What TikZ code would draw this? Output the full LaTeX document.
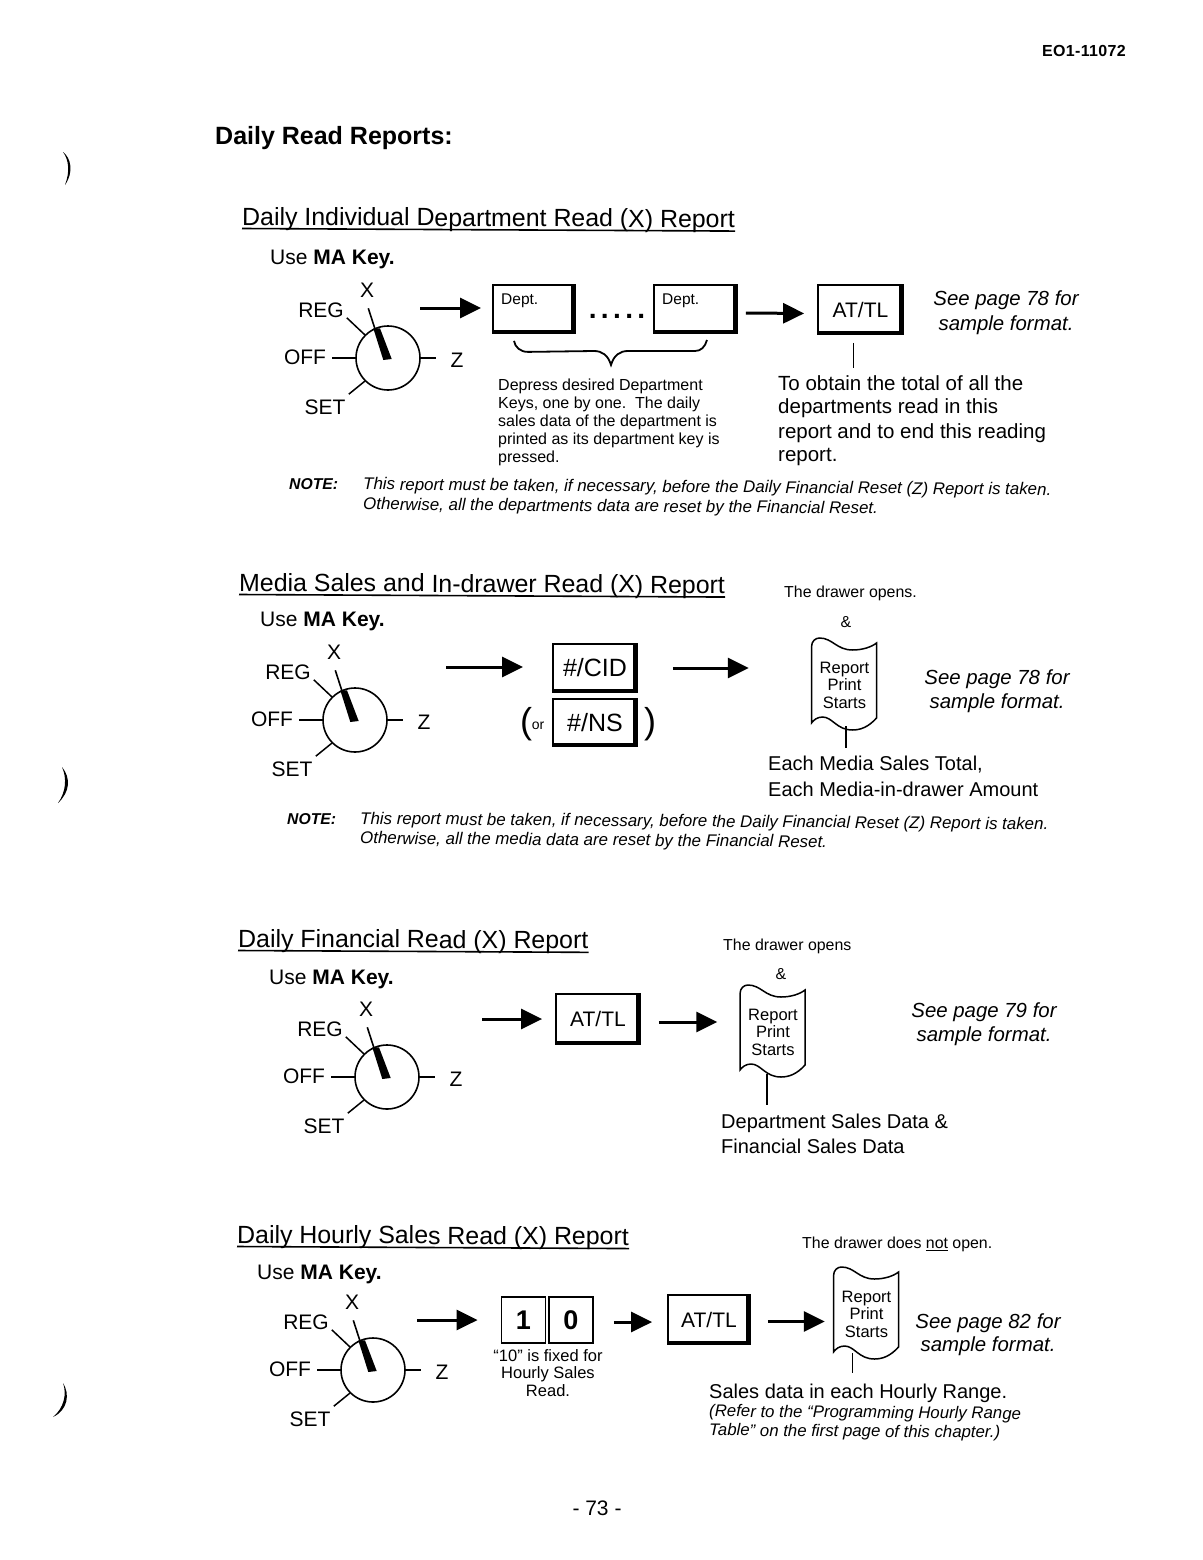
\documentclass[tikz,border=0pt]{standalone}
\usepackage{fontspec}
\setmainfont{Liberation Sans}
\usetikzlibrary{arrows.meta}
\tikzset{
  x=1pt,y=-1pt,
  flow/.style={line width=3pt,-{Triangle[length=21pt,width=20pt]}},
  wire/.style={line width=1.5pt},
  rulel/.style={line width=1.6pt},
  keybox/.style={draw,line width=1.8pt,inner sep=0pt},
  dlab/.style={inner sep=0pt,font=\fontsize{21}{21}\selectfont},
  txt/.style={inner sep=0pt,anchor=mid west},
  ctr/.style={inner sep=0pt,anchor=mid},
}
\newcommand\fs[1]{\fontsize{#1}{#1}\selectfont}
% name, x, y, size, text
\newcommand\tx[6][]{\node[txt,#1] (#2) at (#3,{#4+0.36*#5-3}) {\fs{#5}#6};}
\newcommand\cx[6][]{\node[ctr,#1] (#2) at (#3,{#4+0.36*#5-3}) {\fs{#5}#6};}
% name x y size text : underlined title
\newcommand\rtitle[5]{\node[inner sep=0pt,anchor=base west,rotate=-0.3] (#1) at (#2,#3) {\fs{#4}#5};
  \draw[rulel] ([yshift=-3.5pt]#1.base west) -- ([yshift=-3.5pt]#1.base east);}
% name cx cy
\newcommand\dial[3]{%
  \node[circle,draw,minimum size=64pt,inner sep=0pt,line width=1.6pt] (#1) at (#2,#3) {};
  \node[dlab] (#1x) at (#2-21,#3-68) {X};
  \node[dlab] (#1r) at (#2-67,#3-48) {REG};
  \node[dlab] (#1o) at (#2-83,#3-1) {OFF};
  \node[dlab] (#1z) at (#2+69,#3+2) {Z};
  \node[dlab] (#1s) at (#2-63,#3+49) {SET};
  \draw[wire] (#1.west) -- ++(-23,0);
  \draw[wire] (#1.east) -- ++(15,0);
  \draw[wire] (#1.135) -- ++(-18,-17);
  \draw[wire] (#1.225) -- ++(-16,13);
  \fill (#2-14.7,#3-29.7) -- (#2-8,#3-29.7) -- (#2+3.7,#3+1) -- (#2-4.7,#3+2) -- cycle;
  \draw[line width=1.6pt] (#2-13,#3-29) -- (#2-19.7,#3-49.7);
}
% name x0 y0 x1 y1 text
\newcommand\keyb[6]{%
  \node[keybox,minimum width=#4-#2,minimum height=#5-#3] (#1) at ({(#2+#4)/2},{(#3+#5)/2}) {#6};
  \fill (#1.north east) rectangle ([xshift=-5pt]#1.south east);
  \fill (#1.south west) rectangle ([yshift=4pt]#1.south east);
}
% name cx cy : tape-shaped "Report Print Starts" node
\newcommand\docsh[3]{%
  \node[inner sep=0pt,minimum width=65pt,minimum height=92pt,align=center,font=\fs{16.5}] (#1) at (#2,#3) {\fs{16.5}Report\\[1pt]Print\\[1pt]Starts};
  \draw[wire,shift={(#2,#3)}] (-33,38) -- (-33,-38) .. controls (-33,-44) and (-29,-47) .. (-25,-47)
   .. controls (-12,-47) and (-8,-35) .. (8,-35) .. controls (18,-35) and (27,-38) .. (32,-42)
   -- (32,33) .. controls (24,42) and (16,45) .. (8,45) .. controls (-8,45) and (-12,32) .. (-22,32)
   .. controls (-27,32) and (-31,35) .. (-33,38) -- cycle;
}
\begin{document}
\begin{tikzpicture}
\useasboundingbox (0,0) rectangle (1202,1560);
\fill[white] (0,0) rectangle (1202,1560);
% punch-hole shadows
\fill (63,152) .. controls (71,158) and (74,172) .. (65,185) .. controls (70,172) and (69,160) .. (63,152) -- cycle;
\fill (62,767) .. controls (71,778) and (70,792) .. (58,803) .. controls (66,792) and (67,778) .. (62,767) -- cycle;
\fill (63,1383) .. controls (70,1394) and (68,1410) .. (53,1417) .. controls (64,1408) and (67,1394) .. (63,1383) -- cycle;
% header
\tx{hdr}{1042}{51}{16}{\addfontfeature{LetterSpace=2}\textbf{EO1-11072}}
\tx{h1}{215}{136}{25}{\textbf{Daily Read Reports:}}
%---------------- section 1
\rtitle{t1}{242}{225}{24.9}{Daily Individual Department Read (X) Report}
\tx{u1}{270}{257}{21}{Use \textbf{MA Key.}}
\dial{d1}{388}{358}
\coordinate (s1) at (420,308);
\keyb{k1a}{493}{285}{575}{333}{}
\tx{k1al}{501}{299}{15.5}{Dept.}
\keyb{k1b}{654}{285}{737}{333}{}
\tx{k1bl}{662}{299}{15.5}{Dept.}
\cx{dots}{617}{309}{28}{\textbf{.\hspace{4.4pt}.\hspace{4.4pt}.\hspace{4.4pt}.\hspace{4.4pt}.}}
\keyb{k1c}{818}{285}{903}{334}{\fs{21}AT/TL}
\draw[flow,shorten >=11pt] (s1) -- (s1 -| k1a.west);
\draw[flow,shorten <=8pt,shorten >=13pt] ([yshift=-4pt]k1b.east) -- ([yshift=-4pt]k1c.west);
\cx{sa1}{1006}{299}{20.4}{\itshape See page 78 for}
\cx{sb1}{1006}{324}{20.4}{\itshape sample format.}
\tx{n1a}{498}{385}{16}{Depress desired Department}
\tx{n1b}{498}{403}{16}{Keys, one by one.\ \ The daily}
\tx{n1c}{498}{421}{16}{sales data of the department is}
\tx{n1d}{498}{439}{16}{printed as its department key is}
\tx{n1e}{498}{457}{16}{pressed.}
\draw[line width=1.8pt] ([xshift=-20pt,yshift=-7pt]k1a.south) .. controls ([xshift=-19pt,yshift=-13pt]k1a.south) and ([xshift=-14pt,yshift=-18pt]k1a.south) .. ([xshift=-6pt,yshift=-18pt]k1a.south)
  -- (594,351) .. controls (602,351) and (608,355) .. (611,365) .. controls (614,355) and (620,351) .. (628,351)
  -- (695,351) .. controls (701,351) and (705,347) .. (707,340);
\tx{w1a}{778}{383}{20.5}{To obtain the total of all the}
\tx{w1b}{778}{406}{20.5}{departments read in this}
\tx{w1c}{778}{431}{20.5}{report and to end this reading}
\tx{w1d}{778}{454}{20.5}{report.}
\draw[wire] ([xshift=-7pt,yshift=-8pt]k1c.south) -- ([xshift=-7pt,yshift=-33pt]k1c.south);
\tx{nl1}{289}{484}{15.7}{\textbf{\itshape NOTE:}}
\tx[rotate=-0.45]{nt1a}{363}{484}{16.9}{\itshape This report must be taken, if necessary, before the Daily Financial Reset (Z) Report is taken.}
\tx[rotate=-0.45]{nt1b}{363}{504}{16.9}{\itshape Otherwise, all the departments data are reset by the Financial Reset.}
%---------------- section 2
\rtitle{t2}{239}{591}{24.9}{Media Sales and In-drawer Read (X) Report}
\tx{od2}{784}{592}{15.9}{The drawer opens.}
\cx{am2}{846}{622}{15.9}{\&}
\tx{u2}{260}{619}{21}{Use \textbf{MA Key.}}
\dial{d2}{355}{720}
\coordinate (s2) at (446,667);
\keyb{k2a}{553}{644}{637}{692}{\fs{25}\#/CID}
\keyb{k2b}{553}{699}{637}{746}{\fs{25}\#/NS}
\draw[flow,shorten >=29pt] (s2) -- (s2 -| k2a.west);
\cx{pl2}{526}{721}{36}{\textmd{(}}
\cx{or2}{538}{725}{14}{or}
\cx{pr2}{650}{721}{36}{\textmd{)}}
\docsh{r2}{844.5}{685}
\draw[flow,shorten <=35pt,shorten >=63pt] (k2a.east) -- (k2a.east -| r2.west);
\cx{sa2}{997}{678}{20.4}{\itshape See page 78 for}
\cx{sb2}{997}{702}{20.4}{\itshape sample format.}
\tx{w2a}{768}{764}{20}{Each Media Sales Total,}
\tx{w2b}{768}{790}{20}{Each Media-in-drawer Amount}
\draw[wire] ([xshift=1.5pt,yshift=5pt]r2.south) -- ([xshift=1.5pt,yshift=8pt]r2.south |- w2a.north);
\tx{nl2}{287}{819}{15.7}{\textbf{\itshape NOTE:}}
\tx[rotate=-0.45]{nt2a}{360}{818.5}{16.9}{\itshape This report must be taken, if necessary, before the Daily Financial Reset (Z) Report is taken.}
\tx[rotate=-0.45]{nt2b}{360}{838}{16.9}{\itshape Otherwise, all the media data are reset by the Financial Reset.}
%---------------- section 3
\rtitle{t3}{238}{947}{24.9}{Daily Financial Read (X) Report}
\tx{od3}{723}{945}{15.9}{The drawer opens}
\cx{am3}{781}{974}{15.9}{\&}
\tx{u3}{269}{977}{21}{Use \textbf{MA Key.}}
\dial{d3}{387}{1077}
\coordinate (s3) at (482,1019);
\keyb{k3}{556}{994}{640}{1044}{\fs{21}AT/TL}
\draw[flow,shorten >=13pt] (s3) -- (s3 -| k3.west);
\docsh{r3}{773}{1032}
\draw[flow,shorten <=18pt,shorten >=23pt] ([yshift=-3pt]k3.east) -- ([yshift=-3pt]k3.east -| r3.west);
\cx{sa3}{984}{1011}{20.4}{\itshape See page 79 for}
\cx{sb3}{984}{1035}{20.4}{\itshape sample format.}
\tx{w3a}{721}{1122}{20}{Department Sales Data \&}
\tx{w3b}{721}{1147}{20}{Financial Sales Data}
\draw[wire] ([xshift=-6pt,yshift=4pt]r3.south) -- ([xshift=-6pt,yshift=9pt]r3.south |- w3a.north);
%---------------- section 4
\rtitle{t4}{237}{1243}{24.9}{Daily Hourly Sales Read (X) Report}
\tx{od4}{802}{1243}{15.9}{The drawer does \underline{not} open.}
\tx{u4}{257}{1272}{21}{Use \textbf{MA Key.}}
\dial{d4}{373}{1370}
\coordinate (s4) at (417,1320);
\node[keybox,minimum width=44pt,minimum height=46pt] (k4a) at (523.5,1320) {\fs{27}\textbf{1}};
\node[keybox,minimum width=44pt,minimum height=46pt] (k4b) at (571,1320) {\fs{27}\textbf{0}};
\draw[flow,shorten >=23pt] (s4) -- (s4 -| k4a.west);
\keyb{k4c}{668}{1295}{750}{1344}{\fs{21}AT/TL}
\draw[flow,shorten <=20pt,shorten >=15pt] ([yshift=-2pt]k4b.east) -- ([yshift=-2pt]k4b.east -| k4c.west);
\docsh{r4}{866.5}{1314}
\draw[flow,shorten <=17pt,shorten >=9pt] ([yshift=-2pt]k4c.east) -- ([yshift=-2pt]k4c.east -| r4.west);
\cx{f4a}{548}{1356}{16.5}{“10” is fixed for}
\cx{f4b}{548}{1373}{16.5}{Hourly Sales}
\cx{f4c}{548}{1391}{16.5}{Read.}
\cx{sa4}{988}{1321}{20.4}{\itshape See page 82 for}
\cx{sb4}{988}{1344}{20.4}{\itshape sample format.}
\tx{w4a}{709}{1392}{20}{Sales data in each Hourly Range.}
\draw[wire] ([xshift=-14pt,yshift=7pt]r4.south) -- ([xshift=-14pt,yshift=11pt]r4.south |- w4a.north);
\tx[rotate=-0.45]{w4b}{709}{1411}{16.8}{\itshape (Refer to the “Programming Hourly Range}
\tx[rotate=-0.45]{w4c}{709}{1430}{16.8}{\itshape Table” on the first page of this chapter.)}
\cx{pg}{597}{1508}{21}{- 73 -}
\end{tikzpicture}
\end{document}
